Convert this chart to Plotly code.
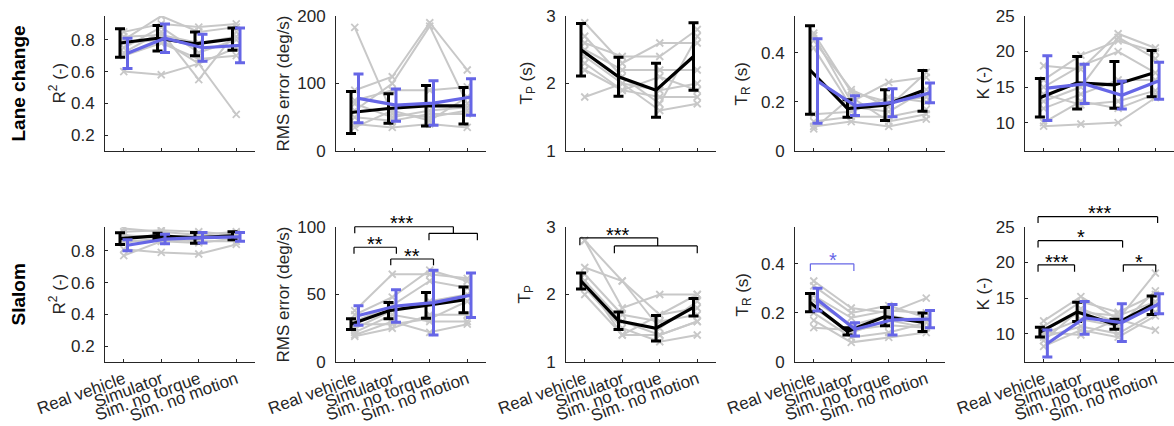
import plotly.graph_objects as go

conditions = ["Real vehicle", "Simulator", "Sim. no torque", "Sim. no motion"]
xpos = [1, 2, 3, 4]
row_labels = ["Lane change", "Slalom"]

# ---------------- Lane change ----------------
lc_r2_subjects = [
    [0.85, 0.90, 0.88, 0.90],
    [0.80, 0.95, 0.85, 0.88],
    [0.72, 0.85, 0.55, 0.85],
    [0.60, 0.58, 0.65, 0.75],
    [0.78, 0.80, 0.65, 0.33],
    [0.70, 0.78, 0.68, 0.70],
    [0.82, 0.83, 0.78, 0.82],
    [0.75, 0.88, 0.72, 0.80],
]
lc_r2_black_mean = [0.78, 0.81, 0.775, 0.805]
lc_r2_black_sd = [0.09, 0.08, 0.075, 0.07]
lc_r2_blue_mean = [0.715, 0.81, 0.75, 0.765]
lc_r2_blue_sd = [0.095, 0.09, 0.085, 0.11]

lc_rms_subjects = [
    [183, 55, 50, 60],
    [90, 110, 190, 120],
    [60, 100, 185, 70],
    [40, 35, 40, 35],
    [75, 90, 90, 95],
    [50, 45, 55, 55],
    [35, 60, 45, 80],
    [70, 50, 60, 65],
]
lc_rms_black_mean = [57, 63, 67, 67]
lc_rms_black_sd = [31, 22, 30, 27]
lc_rms_blue_mean = [78, 68, 71, 80]
lc_rms_blue_sd = [36, 24, 33, 27]

lc_tp_subjects = [
    [2.9, 2.3, 2.6, 2.6],
    [2.6, 2.4, 2.4, 2.8],
    [2.5, 2.2, 2.2, 2.2],
    [2.4, 2.0, 1.9, 2.0],
    [2.2, 1.9, 1.8, 1.8],
    [1.8, 2.0, 1.6, 1.7],
    [2.3, 1.9, 2.1, 1.9],
    [2.7, 2.1, 1.7, 2.7],
]
lc_tp_black_mean = [2.5, 2.1, 1.9, 2.4]
lc_tp_black_sd = [0.39, 0.29, 0.40, 0.50]

lc_tr_subjects = [
    [0.48, 0.24, 0.20, 0.22],
    [0.47, 0.20, 0.28, 0.30],
    [0.45, 0.25, 0.18, 0.32],
    [0.42, 0.18, 0.16, 0.25],
    [0.15, 0.16, 0.22, 0.20],
    [0.12, 0.14, 0.14, 0.17],
    [0.10, 0.12, 0.10, 0.13],
    [0.09, 0.22, 0.12, 0.15],
]
lc_tr_black_mean = [0.33, 0.173, 0.187, 0.245]
lc_tr_black_sd = [0.18, 0.036, 0.063, 0.083]
lc_tr_blue_mean = [0.285, 0.185, 0.197, 0.237]
lc_tr_blue_sd = [0.172, 0.04, 0.057, 0.04]

lc_k_subjects = [
    [18.0, 17.5, 22.5, 20.5],
    [16.0, 19.5, 21.5, 20.0],
    [15.0, 18.0, 20.0, 17.0],
    [13.0, 15.0, 22.0, 19.0],
    [12.0, 14.0, 16.0, 16.0],
    [10.0, 13.0, 12.0, 14.0],
    [9.5, 9.8, 10.0, 13.5],
    [14.0, 12.5, 13.0, 14.5],
]
lc_k_black_mean = [13.5, 15.6, 15.3, 16.9]
lc_k_black_sd = [2.7, 3.7, 3.3, 3.25]
lc_k_blue_mean = [14.85, 15.45, 13.85, 15.9]
lc_k_blue_sd = [4.55, 2.75, 1.95, 2.6]

# ---------------- Slalom ----------------
sl_r2_subjects = [
    [0.94, 0.92, 0.90, 0.92],
    [0.92, 0.93, 0.92, 0.90],
    [0.88, 0.90, 0.88, 0.90],
    [0.85, 0.88, 0.90, 0.88],
    [0.81, 0.79, 0.78, 0.84],
    [0.77, 0.86, 0.85, 0.88],
    [0.90, 0.88, 0.88, 0.91],
    [0.86, 0.87, 0.86, 0.86],
]
sl_r2_black_mean = [0.877, 0.894, 0.882, 0.895]
sl_r2_black_sd = [0.037, 0.016, 0.034, 0.025]
sl_r2_blue_mean = [0.835, 0.874, 0.883, 0.888]
sl_r2_blue_sd = [0.035, 0.03, 0.033, 0.028]

sl_rms_subjects = [
    [38, 65, 65, 62],
    [35, 48, 68, 60],
    [30, 42, 60, 55],
    [25, 38, 45, 50],
    [22, 35, 30, 30],
    [20, 30, 22, 28],
    [19, 25, 35, 35],
    [28, 28, 32, 45],
]
sl_rms_black_mean = [28, 38, 42, 46]
sl_rms_black_sd = [4, 6, 9.5, 9.5]
sl_rms_blue_mean = [34.5, 41.5, 44, 49.5]
sl_rms_blue_sd = [7.2, 12, 24, 16.5]

sl_tp_subjects = [
    [2.8, 2.2, 1.7, 2.0],
    [2.8, 1.8, 2.0, 2.0],
    [2.4, 2.2, 1.5, 1.9],
    [2.3, 1.7, 1.6, 1.7],
    [2.2, 1.6, 1.4, 1.6],
    [2.1, 1.5, 1.3, 1.4],
    [2.0, 1.4, 1.4, 1.6],
    [2.2, 1.4, 1.7, 1.8],
]
sl_tp_black_mean = [2.2, 1.61, 1.5, 1.81]
sl_tp_black_sd = [0.12, 0.13, 0.19, 0.13]

sl_tr_subjects = [
    [0.33, 0.22, 0.20, 0.26],
    [0.31, 0.20, 0.23, 0.18],
    [0.27, 0.18, 0.21, 0.20],
    [0.25, 0.15, 0.19, 0.16],
    [0.22, 0.12, 0.17, 0.14],
    [0.20, 0.10, 0.12, 0.16],
    [0.17, 0.08, 0.10, 0.12],
    [0.14, 0.13, 0.15, 0.14],
]
sl_tr_black_mean = [0.242, 0.125, 0.185, 0.162]
sl_tr_black_sd = [0.037, 0.015, 0.037, 0.038]
sl_tr_blue_mean = [0.254, 0.133, 0.172, 0.175]
sl_tr_blue_sd = [0.046, 0.027, 0.062, 0.035]

sl_k_subjects = [
    [11.8, 15.2, 12.0, 18.5],
    [11.0, 14.5, 13.0, 15.5],
    [10.5, 13.0, 12.5, 14.5],
    [10.0, 12.0, 11.0, 16.0],
    [9.5, 11.0, 10.0, 13.0],
    [8.2, 10.5, 9.5, 12.5],
    [10.2, 9.8, 12.0, 10.5],
    [9.0, 13.5, 11.5, 14.0],
]
sl_k_black_mean = [10.2, 13.05, 11.3, 14.0]
sl_k_black_sd = [0.68, 1.35, 0.7, 1.3]
sl_k_blue_mean = [8.6, 12.2, 11.55, 14.2]
sl_k_blue_sd = [1.9, 2.3, 2.65, 1.4]

# significance brackets: (x_left, x_right, y_bar, y_leg_left, y_leg_right)
sl_rms_brackets = [(1.0, 3.63, 100.2, 95.3, 95.3), (2.98, 4.27, 95.3, 90.2, 90.2),
                   (0.98, 2.11, 85.0, 80.2, 80.2), (1.96, 3.10, 76.3, 71.6, 71.6)]
sl_rms_stars = [(2.25, 106.7, "***"), (1.54, 91.4, "**"), (2.53, 82.2, "**")]
sl_tp_brackets = [(0.87, 2.945, 2.84, 2.73, 2.72), (1.79, 4.0, 2.72, 2.61, 2.61)]
sl_tp_stars = [(1.88, 2.96, "***")]
sl_tr_brackets = [(0.91, 2.07, 0.40, 0.371, 0.371)]
sl_tr_stars = [(1.5, 0.435, "*")]
sl_k_brackets = [(0.85, 4.06, 26.46, 25.57, 25.57), (0.85, 3.12, 23.07, 22.1, 22.1),
                 (0.85, 1.83, 19.67, 18.7, 18.7), (3.14, 4.01, 19.67, 18.7, 18.7)]
sl_k_stars = [(2.5, 27.7, "***"), (2.01, 24.25, "*"), (1.35, 20.75, "***"), (3.57, 20.75, "*")]

GRAY = "#c8c8c8"
BLACK = "#000000"
BLUE = "#6666e6"
AXC = "#262626"
FONT = "Liberation Sans, Arial, sans-serif"
XR = [0.5, 4.5]
OFF = 0.1

panels = [
    dict(s=lc_r2_subjects, bm=lc_r2_black_mean, bs=lc_r2_black_sd, um=lc_r2_blue_mean, us=lc_r2_blue_sd,
         yr=[0.1, 0.95], tv=[0.2, 0.4, 0.6, 0.8], yl="R<sup>2</sup> (-)", ylx=57),
    dict(s=lc_rms_subjects, bm=lc_rms_black_mean, bs=lc_rms_black_sd, um=lc_rms_blue_mean, us=lc_rms_blue_sd,
         yr=[0, 200], tv=[0, 100, 200], yl="RMS error (deg/s)", ylx=283),
    dict(s=lc_tp_subjects, bm=lc_tp_black_mean, bs=lc_tp_black_sd, um=None, us=None,
         yr=[1, 3], tv=[1, 2, 3], yl="T<sub>P</sub> (s)", ylx=527),
    dict(s=lc_tr_subjects, bm=lc_tr_black_mean, bs=lc_tr_black_sd, um=lc_tr_blue_mean, us=lc_tr_blue_sd,
         yr=[0, 0.55], tv=[0, 0.2, 0.4], yl="T<sub>R</sub> (s)", ylx=742),
    dict(s=lc_k_subjects, bm=lc_k_black_mean, bs=lc_k_black_sd, um=lc_k_blue_mean, us=lc_k_blue_sd,
         yr=[6, 25], tv=[10, 15, 20, 25], yl="K (-)", ylx=983),
    dict(s=sl_r2_subjects, bm=sl_r2_black_mean, bs=sl_r2_black_sd, um=sl_r2_blue_mean, us=sl_r2_blue_sd,
         yr=[0.1, 0.95], tv=[0.2, 0.4, 0.6, 0.8], yl="R<sup>2</sup> (-)", ylx=57),
    dict(s=sl_rms_subjects, bm=sl_rms_black_mean, bs=sl_rms_black_sd, um=sl_rms_blue_mean, us=sl_rms_blue_sd,
         yr=[0, 100], tv=[0, 50, 100], yl="RMS error (deg/s)", ylx=283,
         br=sl_rms_brackets, st=sl_rms_stars, bc=BLACK),
    dict(s=sl_tp_subjects, bm=sl_tp_black_mean, bs=sl_tp_black_sd, um=None, us=None,
         yr=[1, 3], tv=[1, 2, 3], yl="T<sub>P</sub>", ylx=525,
         br=sl_tp_brackets, st=sl_tp_stars, bc=BLACK),
    dict(s=sl_tr_subjects, bm=sl_tr_black_mean, bs=sl_tr_black_sd, um=sl_tr_blue_mean, us=sl_tr_blue_sd,
         yr=[0, 0.55], tv=[0, 0.2, 0.4], yl="T<sub>R</sub> (s)", ylx=743,
         br=sl_tr_brackets, st=sl_tr_stars, bc=BLUE),
    dict(s=sl_k_subjects, bm=sl_k_black_mean, bs=sl_k_black_sd, um=sl_k_blue_mean, us=sl_k_blue_sd,
         yr=[6, 25], tv=[10, 15, 20, 25], yl="K (-)", ylx=983,
         br=sl_k_brackets, st=sl_k_stars, bc=BLACK),
]

W, H = 1174, 426
col_left = [105, 336, 566, 795, 1025]
col_w = [150, 150, 150, 150, 149]
row_top = [16, 227]
row_h = 135

fig = go.Figure()
layout = dict(width=W, height=H, margin=dict(l=0, r=0, t=0, b=0, pad=0, autoexpand=False),
              plot_bgcolor="white", paper_bgcolor="white", showlegend=False,
              font=dict(family=FONT, size=17, color=AXC))
shapes = []
annotations = []

for i, p in enumerate(panels):
    k = i + 1
    row, col = divmod(i, 5)
    xa = "x" if k == 1 else f"x{k}"
    ya = "y" if k == 1 else f"y{k}"
    for subj in p["s"]:
        fig.add_trace(go.Scatter(x=xpos, y=subj, mode="lines+markers", xaxis=xa, yaxis=ya,
                                 line=dict(color=GRAY, width=2),
                                 marker=dict(symbol="x-thin", size=7, line=dict(color=GRAY, width=1.8)),
                                 hoverinfo="skip"))
    fig.add_trace(go.Scatter(x=[v - OFF for v in xpos], y=p["bm"], mode="lines", xaxis=xa, yaxis=ya,
                             line=dict(color=BLACK, width=3.2),
                             error_y=dict(type="data", array=p["bs"], color=BLACK, thickness=3, width=5)))
    if p["um"] is not None:
        fig.add_trace(go.Scatter(x=[v + OFF for v in xpos], y=p["um"], mode="lines", xaxis=xa, yaxis=ya,
                                 line=dict(color=BLUE, width=3.2),
                                 error_y=dict(type="data", array=p["us"], color=BLUE, thickness=3, width=5)))
    x0 = col_left[col] / W
    x1 = (col_left[col] + col_w[col]) / W
    y1 = 1 - row_top[row] / H
    y0 = 1 - (row_top[row] + row_h) / H
    xkey = "xaxis" if k == 1 else f"xaxis{k}"
    ykey = "yaxis" if k == 1 else f"yaxis{k}"
    layout[xkey] = dict(domain=[x0, x1], anchor=ya, range=XR, tickvals=xpos, ticktext=conditions,
                        showticklabels=(row == 1), tickangle=-20, ticks="inside", ticklen=3,
                        tickcolor=AXC, showline=True, linecolor=AXC, linewidth=1, automargin=False,
                        showgrid=False, zeroline=False, tickfont=dict(size=17, color=AXC))
    layout[ykey] = dict(domain=[y0, y1], anchor=xa, range=p["yr"], tickvals=p["tv"],
                        ticks="inside", ticklen=3, tickcolor=AXC, showline=True, linecolor=AXC,
                        linewidth=1, showgrid=False, zeroline=False, ticklabelstandoff=6,
                        automargin=False, tickfont=dict(size=17, color=AXC))
    annotations.append(dict(text=p["yl"], xref="paper", yref="paper", x=p["ylx"] / W,
                            y=(y0 + y1) / 2, textangle=-90, showarrow=False,
                            xanchor="center", yanchor="middle",
                            font=dict(size=17, color=AXC, family=FONT)))
    if "br" in p:
        xd = f"{xa} domain"
        yd = f"{ya} domain"
        yr = p["yr"]
        fx = lambda v: (v - XR[0]) / (XR[1] - XR[0])
        fy = lambda v: (v - yr[0]) / (yr[1] - yr[0])
        for (xl, xr_, yb, yll, ylr) in p["br"]:
            for seg in [(xl, yll, xl, yb), (xl, yb, xr_, yb), (xr_, yb, xr_, ylr)]:
                shapes.append(dict(type="line", xref=xd, yref=yd,
                                   x0=fx(seg[0]), y0=fy(seg[1]), x1=fx(seg[2]), y1=fy(seg[3]),
                                   line=dict(color=p["bc"], width=1.2)))
        for (xs, ys, txt) in p["st"]:
            annotations.append(dict(text=txt, xref=xd, yref=yd, x=fx(xs), y=fy(ys),
                                    showarrow=False, xanchor="center", yanchor="middle", yshift=-5,
                                    font=dict(size=20, color=p["bc"], family=FONT)))

for r, lab in enumerate(row_labels):
    yc = 1 - (row_top[r] + row_h / 2) / H
    annotations.append(dict(text=f"<b>{lab}</b>", xref="paper", yref="paper", x=18 / W, y=yc,
                            textangle=-90, showarrow=False, xanchor="center", yanchor="middle",
                            font=dict(size=19, color="black", family=FONT)))

layout["shapes"] = shapes
layout["annotations"] = annotations
fig.update_layout(**layout)
fig.write_html("out.html")
